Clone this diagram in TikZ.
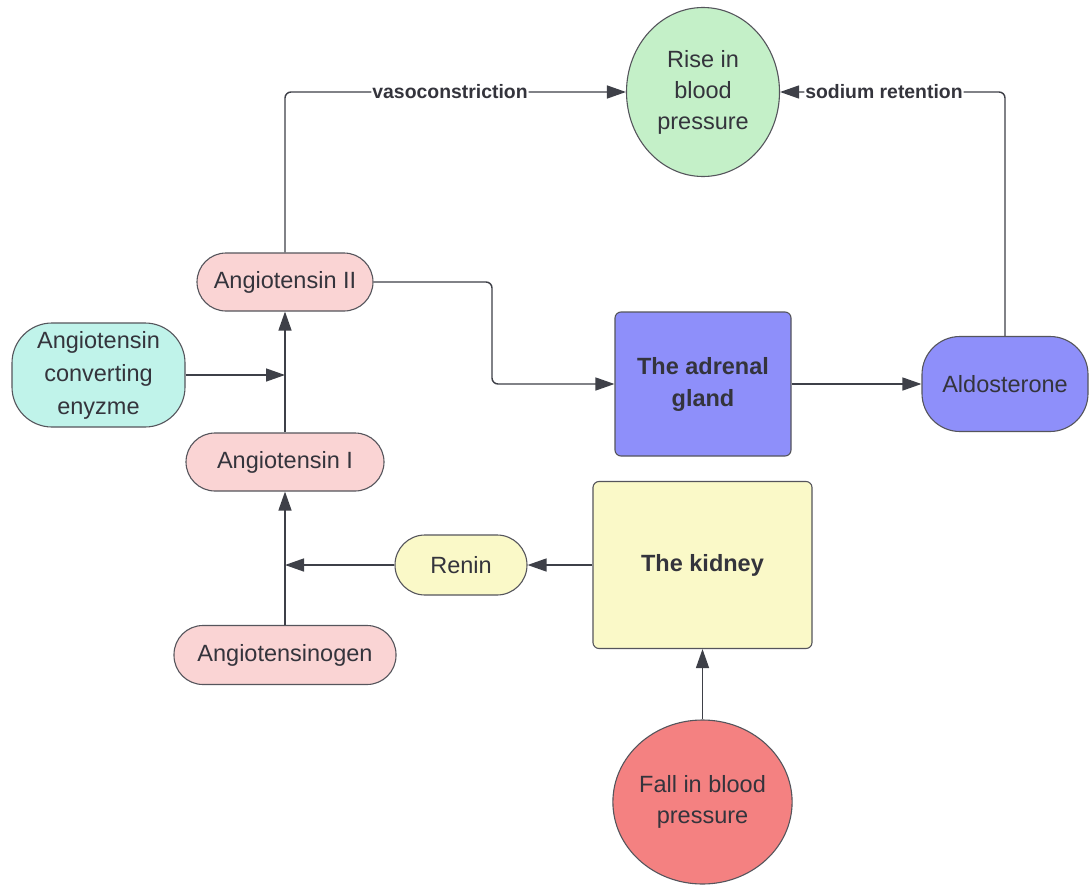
\documentclass[tikz,border=0pt]{standalone}
\usepackage{fontspec}
\setmainfont{Liberation Sans}
\usetikzlibrary{arrows.meta,shapes.geometric}
\definecolor{linec}{RGB}{62,64,72}
\definecolor{borderc}{RGB}{85,85,92}
\definecolor{textc}{RGB}{52,52,60}
\definecolor{greenf}{RGB}{196,240,200}
\definecolor{cyanf}{RGB}{192,243,234}
\definecolor{pinkf}{RGB}{250,212,212}
\definecolor{bluef}{RGB}{142,143,250}
\definecolor{yellowf}{RGB}{250,249,200}
\definecolor{redf}{RGB}{244,129,129}
\begin{document}
\begin{tikzpicture}[x=1pt,y=-1pt,
  box/.style={draw=borderc, line width=1.1pt, text=textc, align=center, inner sep=0pt,
    font=\fontsize{23.5}{31}\selectfont},
  boldbox/.style={box, font=\bfseries\fontsize{23.5}{32}\selectfont},
  pill/.style={box, rounded corners=#1},
  oval/.style={box, ellipse},
  conn/.style={draw=linec, line width=1.4pt, rounded corners=6pt,
    -{Triangle[length=19pt,width=13pt]}},
  lbl/.style={fill=white, inner sep=1pt, text=textc,
    font=\bfseries\fontsize{19.4}{22}\selectfont}]
\useasboundingbox (0,0) rectangle (1092,886);
\fill[white] (0,0) rectangle (1092,886);

% nodes
\node[oval, fill=greenf, minimum width=153pt, minimum height=169pt] (rise) at (703,92) {Rise in\\blood\\pressure};
\node[pill=29pt, fill=pinkf, minimum width=176pt, minimum height=58pt] (a2) at (285,282) {Angiotensin II};
\node[pill=40pt, fill=cyanf, minimum width=173pt, minimum height=104pt, font=\fontsize{23.5}{33}\selectfont] (ace) at (98.5,375) {Angiotensin\\converting\\enyzme};
\node[pill=29pt, fill=pinkf, minimum width=198pt, minimum height=58pt] (a1) at (285,462) {Angiotensin I};
\node[pill=29pt, fill=pinkf, minimum width=222pt, minimum height=59pt] (agen) at (285,655) {Angiotensinogen};
\node[pill=30pt, fill=yellowf, minimum width=132pt, minimum height=60pt] (renin) at (461,565) {Renin};
\node[boldbox, rounded corners=6pt, fill=yellowf, minimum width=219pt, minimum height=167pt] (kid) at (702.5,565) {The kidney};
\node[boldbox, rounded corners=6pt, fill=bluef, minimum width=176pt, minimum height=144pt] (adr) at (703,384) {The adrenal\\gland};
\node[pill=38pt, fill=bluef, minimum width=166pt, minimum height=95pt] (ald) at (1005,384) {Aldosterone};
\node[oval, fill=redf, minimum width=155pt, minimum height=164pt] (fall) at (702.5,802) {Fall in blood\\pressure};

% junction points on the vertical line
\coordinate (j1) at (285,375);
\coordinate (j2) at (285,565);
\coordinate (bend) at (492,384);

% connectors
\draw[conn] (a2.north) |- node[lbl, pos=0.742] {vasoconstriction} (rise.west);
\draw[conn] (ald.north) |- node[lbl, pos=0.769] {sodium retention} (rise.east);
\draw[conn] (a2.east) -| (bend) -- (adr.west);
\draw[conn] (adr.east) -- (ald.west);
\draw[conn] (a1.north) -- (a2.south);
\draw[conn] (ace.east) -- (j1);
\draw[conn] (agen.north) -- (a1.south);
\draw[conn] (renin.west) -- (j2);
\draw[conn] (kid.west) -- (renin.east);
\draw[conn] (fall.north) -- (kid.south);
\end{tikzpicture}
\end{document}
